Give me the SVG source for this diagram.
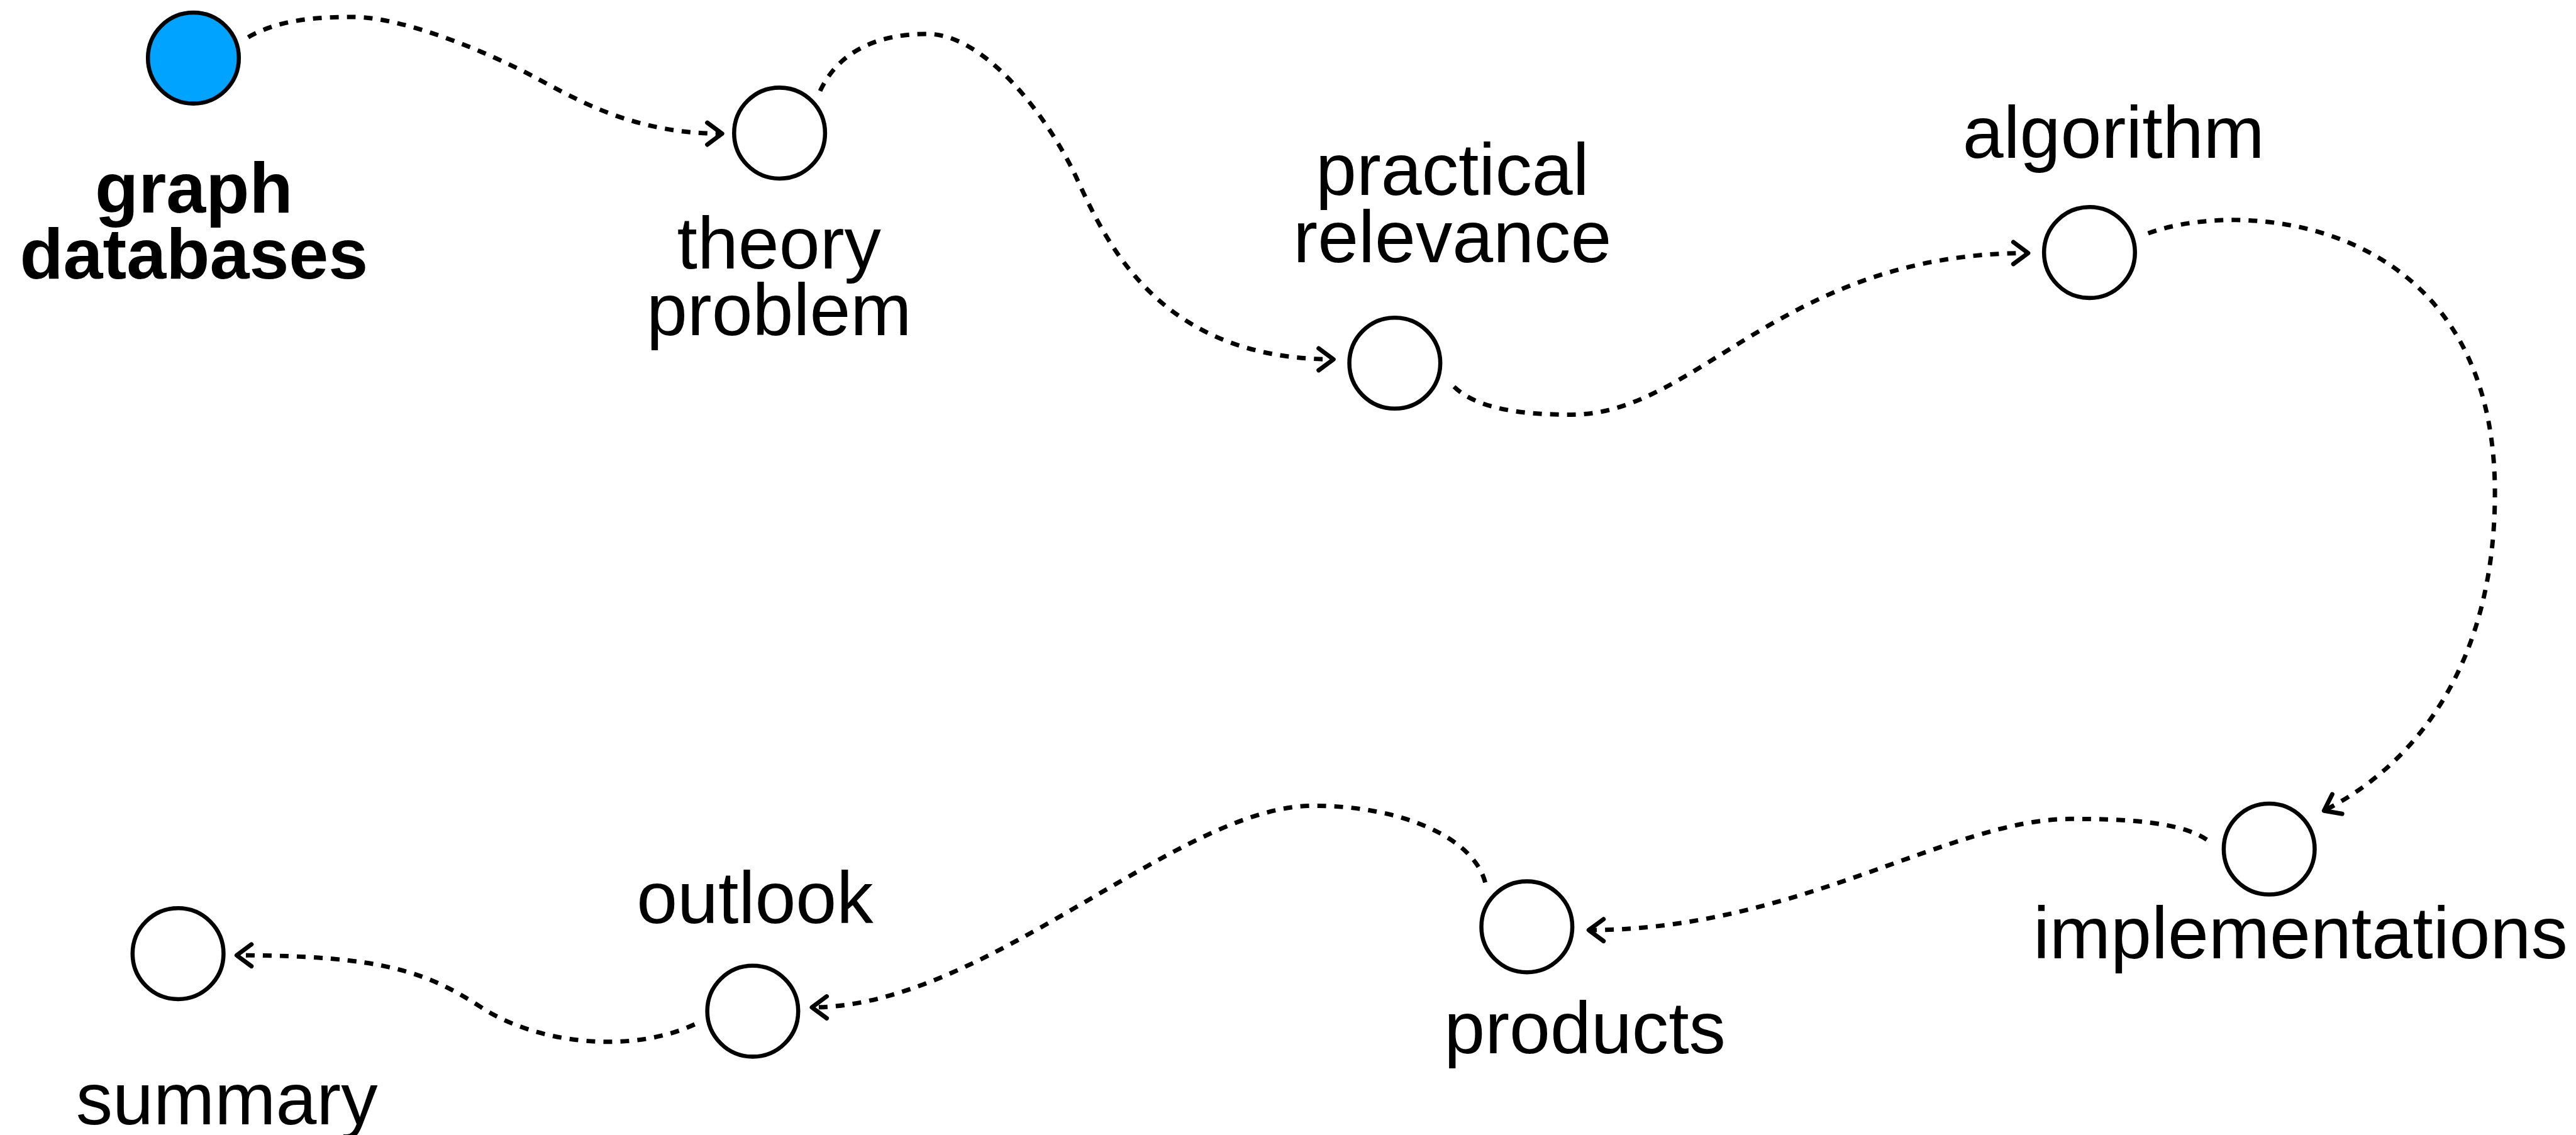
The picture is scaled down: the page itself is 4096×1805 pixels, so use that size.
<svg xmlns="http://www.w3.org/2000/svg" width="4096" height="1805" viewBox="0 0 4096 1805">
  <defs>
    <style>
      .node circle { fill: #ffffff; stroke: #000000; stroke-width: 7.5; }
      #n-graph-databases circle { fill: #00A3FF; }
      .label { font-family: "Liberation Sans", Arial, Helvetica, sans-serif; font-size: 134px; fill: #000000; text-anchor: middle; }
      .label.bold { font-weight: bold; font-size: 130px; }
      .edge { fill: none; stroke: #000000; stroke-width: 8; stroke-dasharray: 16 15; marker-end: url(#arrow); }
    </style>
    <!-- open chevron arrowhead, tip at the path end -->
    <marker id="arrow" markerUnits="userSpaceOnUse" viewBox="-40 -30 60 60" markerWidth="60" markerHeight="60" refX="0" refY="0" orient="auto" overflow="visible">
      <path d="M-27,-20 L0,0 L-27,20" fill="none" stroke="#000000" stroke-width="8" stroke-linecap="round" stroke-linejoin="round"/>
    </marker>
  </defs>

  <rect x="0" y="0" width="4096" height="1805" fill="#ffffff"/>

  <!-- layout drawn in a 4702 x 2072 space, scaled to the canvas -->
  <g transform="scale(0.871119)">

    <g id="connectors">
      <path id="e-graph-theory" class="edge" d="M453,68 C510,35 580,31 645,31 C740,31 900,100 976,141 C1060,186 1160,244 1318,244"/>
      <path id="e-theory-practical" class="edge" d="M1497,166 C1530,95 1600,62 1691,62 C1785,60 1895,185 1959,312 C2010,420 2100,656 2434,656"/>
      <path id="e-practical-algorithm" class="edge" d="M2654,706 C2700,750 2790,757 2868,757 C3100,757 3250,462 3702,462"/>
      <path id="e-algorithm-implementations" class="edge" d="M3921,426 C4100,360 4554,400 4554,900 C4554,1200 4420,1390 4242,1480"/>
      <path id="e-implementations-products" class="edge" d="M4028,1533 C3980,1500 3880,1495 3779,1495 C3560,1495 3280,1698 2900,1698"/>
      <path id="e-products-outlook" class="edge" d="M2711,1611 C2690,1530 2560,1471 2397,1471 C2150,1471 1800,1839 1482,1839"/>
      <path id="e-outlook-summary" class="edge" d="M1268,1870 C1150,1925 980,1905 880,1840 C780,1775 700,1744 432,1744"/>
    </g>

    <g id="n-graph-databases" class="node">
      <circle cx="353" cy="106" r="83"/>
      <text class="label bold" x="354" y="388"><tspan x="354">graph</tspan><tspan x="354" dy="121">databases</tspan></text>
    </g>

    <g id="n-theory-problem" class="node">
      <circle cx="1423" cy="243" r="83"/>
      <text class="label" x="1422" y="490"><tspan x="1422">theory</tspan><tspan x="1422" dy="122">problem</tspan></text>
    </g>

    <g id="n-practical-relevance" class="node">
      <circle cx="2546" cy="663" r="83"/>
      <text class="label" x="2651" y="356"><tspan x="2651">practical</tspan><tspan x="2651" dy="123">relevance</tspan></text>
    </g>

    <g id="n-algorithm" class="node">
      <circle cx="3814" cy="461" r="83"/>
      <text class="label" x="3858" y="288">algorithm</text>
    </g>

    <g id="n-implementations" class="node">
      <circle cx="4142" cy="1550" r="83"/>
      <text class="label" x="4199" y="1749">implementations</text>
    </g>

    <g id="n-products" class="node">
      <circle cx="2787" cy="1692" r="83"/>
      <text class="label" x="2893" y="1923">products</text>
    </g>

    <g id="n-outlook" class="node">
      <circle cx="1374" cy="1846" r="83"/>
      <text class="label" x="1378" y="1685">outlook</text>
    </g>

    <g id="n-summary" class="node">
      <circle cx="325" cy="1741" r="83"/>
      <text class="label" x="414" y="2053">summary</text>
    </g>

  </g>
</svg>
